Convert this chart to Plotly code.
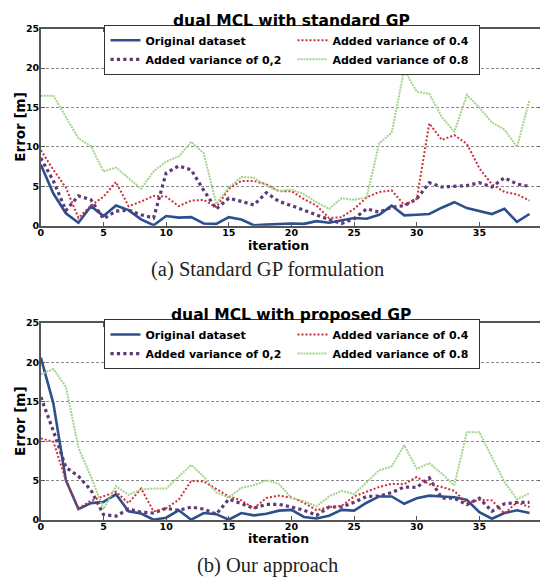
import plotly.graph_objects as go

iterations = list(range(40))
x_ticks = [0, 5, 10, 15, 20, 25, 30, 35, 40]
y_ticks = [0, 5, 10, 15, 20, 25]

series_names = ["Original dataset", "Added variance of 0,2",
                "Added variance of 0.4", "Added variance of 0.8"]

# (a) Standard GP formulation
top_orig = [7.75, 4.1, 1.6, 0.4, 2.5, 1.25, 2.57, 2.0, 0.83, 0.08,
            1.25, 1.04, 1.1, 0.3, 0.25, 1.1, 0.8, 0.08, 0.15, 0.2,
            0.3, 0.25, 0.6, 0.4, 0.7, 1.0, 0.9, 1.4, 2.57, 1.33,
            1.4, 1.5, 2.3, 3.0, 2.25, 1.9, 1.5, 2.15, 0.5, 1.5]
top_v02 = [8.6, 5.7, 1.95, 3.8, 3.3, 0.9, 1.87, 2.0, 1.4, 1.0,
           6.7, 7.6, 7.1, 4.5, 2.15, 3.5, 3.1, 2.65, 4.2, 3.1,
           2.57, 1.96, 1.4, 0.8, 0.3, 0.9, 2.15, 1.74, 2.36, 2.57,
           3.4, 5.47, 4.93, 5.0, 5.1, 5.47, 4.93, 6.1, 5.3, 5.0]
top_v04 = [9.6, 7.1, 4.85, 1.0, 2.57, 3.7, 5.56, 2.5, 3.07, 3.8,
           3.7, 2.5, 3.2, 3.3, 2.36, 4.7, 5.7, 5.7, 5.26, 4.4,
           4.4, 3.4, 2.57, 1.0, 1.1, 2.15, 3.6, 4.3, 4.5, 2.65,
           3.4, 13.0, 10.9, 11.5, 10.4, 7.3, 5.26, 4.3, 4.0, 3.2]
top_v08 = [16.5, 16.5, 13.8, 11.1, 10.1, 6.9, 7.4, 6.1, 4.7, 6.9,
           8.17, 8.8, 10.66, 9.2, 2.8, 4.85, 6.2, 6.1, 5.1, 4.4,
           4.6, 4.0, 3.0, 2.15, 3.5, 3.3, 3.6, 10.45, 11.8, 19.8,
           17.0, 16.75, 13.8, 11.9, 16.6, 15.0, 13.1, 12.2, 10.0, 16.0]

# (b) Our approach
bot_orig = [20.6, 14.8, 5.06, 1.4, 2.15, 2.3, 3.27, 1.12, 0.83, 0.05,
            0.3, 1.24, 0.05, 0.9, 0.75, 0.05, 0.9, 0.6, 0.8, 1.2,
            1.3, 0.4, 0.2, 0.55, 1.3, 1.2, 2.2, 3.0, 3.0, 2.07,
            2.77, 3.1, 3.0, 2.9, 2.57, 1.0, 0.17, 0.9, 1.24, 0.9]
bot_v02 = [15.6, 11.3, 6.7, 5.56, 3.8, 0.7, 0.5, 1.4, 1.0, 0.9,
           1.5, 1.24, 1.65, 1.4, 0.75, 2.65, 2.1, 1.5, 2.0, 2.0,
           1.66, 1.25, 0.6, 1.66, 1.66, 2.25, 3.0, 3.05, 3.48, 4.2,
           4.15, 5.35, 2.77, 2.77, 1.95, 2.77, 1.12, 2.07, 2.24, 2.24]
bot_v04 = [10.36, 9.95, 5.06, 1.5, 2.45, 3.07, 3.6, 2.15, 4.0, 1.1,
           1.5, 2.57, 4.97, 4.9, 4.0, 3.0, 2.5, 1.5, 2.8, 3.1,
           2.86, 2.2, 1.25, 1.66, 1.8, 3.0, 3.6, 4.2, 4.6, 4.55,
           5.47, 4.55, 4.2, 3.7, 2.15, 2.57, 2.5, 0.83, 2.24, 1.66]
bot_v08 = [18.5, 19.15, 16.9, 9.2, 5.5, 1.4, 4.3, 3.2, 3.9, 4.0,
           4.0, 5.56, 7.0, 5.5, 3.5, 2.86, 4.1, 4.4, 5.06, 4.6,
           2.8, 2.4, 1.74, 3.0, 3.7, 3.3, 4.85, 6.3, 6.8, 9.5,
           6.5, 7.2, 5.9, 4.4, 11.15, 11.15, 7.96, 4.85, 2.65, 3.4]

titles = ["dual MCL with standard GP", "dual MCL with proposed GP"]
captions = ["(a) Standard GP formulation", "(b) Our approach"]

styles = [
    dict(color="#2c4f8e", width=2.6, dash="solid"),
    dict(color="#5c3b77", width=3.2, dash="dot"),
    dict(color="#cc2f3b", width=2.0, dash="2px,2px"),
    dict(color="#a3d48a", width=2.0, dash="2px,1px"),
]
ranks = [1, 3, 2, 4]

fig = go.Figure()
panels = [(top_orig, top_v02, top_v04, top_v08), (bot_orig, bot_v02, bot_v04, bot_v08)]
for p, data in enumerate(panels):
    xa = "x" if p == 0 else "x2"
    ya = "y" if p == 0 else "y2"
    lg = "legend" if p == 0 else "legend2"
    for k, vals in enumerate(data):
        fig.add_trace(go.Scatter(
            x=iterations, y=vals, mode="lines", name=series_names[k],
            line=styles[k], xaxis=xa, yaxis=ya, legend=lg, legendrank=ranks[k],
        ))

# the page body has an 8px margin, so the figure is drawn 8px in from the window edge
OFF = 8
FW, FH = 548 - OFF, 581 - OFF


def px_x(X):
    return (X - OFF) / FW


def px_y(Y):
    return 1 - (Y - OFF) / FH


xdom = [px_x(38), px_x(542)]
ydoms = [[px_y(224), px_y(23)], [px_y(524), px_y(323)]]

tickfont = dict(family="DejaVu Sans", size=9.5, color="black", weight="bold")
axis_common = dict(
    showline=True, linecolor="#555555", linewidth=1.5, mirror="ticks",
    ticks="inside", ticklen=4, tickcolor="#555555", tickfont=tickfont,
    zeroline=False,
)

legend_common = dict(
    orientation="h", xanchor="left", yanchor="top",
    bgcolor="white", bordercolor="#333333", borderwidth=1,
    font=dict(family="DejaVu Sans", size=11, color="black", weight="bold"),
    entrywidth=142, entrywidthmode="pixels", tracegroupgap=0, itemwidth=30,
)

layout = dict(
    width=FW, height=FH, margin=dict(l=0, r=0, t=0, b=0),
    paper_bgcolor="white", plot_bgcolor="white",
    showlegend=True,
    legend=dict(x=px_x(102), y=px_y(19), **legend_common),
    legend2=dict(x=px_x(102), y=px_y(319), **legend_common),
)
for p in range(2):
    sx = "" if p == 0 else "2"
    layout["xaxis" + sx] = dict(domain=xdom, range=[0, 40], tickvals=x_ticks,
                                showgrid=False, anchor="y" + sx,
                                ticklabelstandoff=-3, **axis_common)
    layout["yaxis" + sx] = dict(domain=ydoms[p], range=[0, 25], tickvals=y_ticks,
                                showgrid=True, gridcolor="#8a8a8a", gridwidth=1,
                                griddash="3px,2px", anchor="x" + sx,
                                ticklabelstandoff=-2, **axis_common)
fig.update_layout(**layout)

title_ys = [15, 315]
xlabel_ys = [244, 543]
ylabel_ys = [123, 423]
caption_ys = [269, 570]
for p in range(2):
    common = dict(xref="paper", yref="paper", showarrow=False,
                  xanchor="center", yanchor="middle")
    fig.add_annotation(text=titles[p], x=px_x(290), y=px_y(title_ys[p]), **common,
                       font=dict(family="DejaVu Sans", size=15.5, color="black", weight="bold"))
    fig.add_annotation(text="iteration", x=px_x(277), y=px_y(xlabel_ys[p]), **common,
                       font=dict(family="DejaVu Sans", size=12.5, color="black", weight="bold"))
    fig.add_annotation(text="Error [m]", x=px_x(17), y=px_y(ylabel_ys[p]), textangle=-90,
                       **common,
                       font=dict(family="DejaVu Sans", size=13.5, color="black", weight="bold"))
    fig.add_annotation(text=captions[p], x=px_x(266), y=px_y(caption_ys[p]), **common,
                       font=dict(family="Liberation Serif", size=20.5, color="#222222"))

fig.write_html("out.html")
